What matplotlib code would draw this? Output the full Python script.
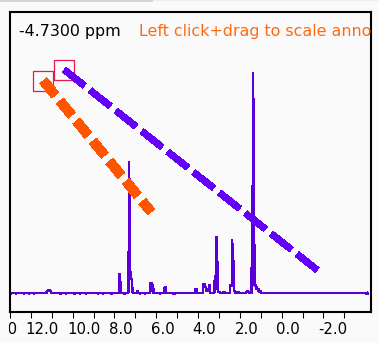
import matplotlib
matplotlib.use("Agg")
import matplotlib.pyplot as plt
from matplotlib.patches import Rectangle
from matplotlib.ticker import FixedLocator, FormatStrFormatter
import matplotlib.transforms as mtransforms

plt.rcParams['axes.unicode_minus'] = False
plt.rcParams['lines.scale_dashes'] = False

# 1H spectrum: chemical shift (ppm) and normalised intensity
ppm = [13.00, 12.97, 12.95, 12.93, 12.72, 12.70, 12.68, 12.34, 12.32, 12.30,
       12.10, 12.08, 12.06, 11.87, 11.85, 11.83, 11.26, 11.20, 11.08, 11.02,
       10.64, 10.62, 10.56, 10.54, 10.33, 10.31, 10.29, 9.95, 9.93, 9.88,
       9.86, 9.67, 9.65, 9.63, 9.38, 9.36, 9.34, 8.81, 8.79, 8.77,
       8.57, 8.55, 8.53, 8.20, 8.18, 8.12, 8.10, 7.79, 7.77, 7.75,
       7.72, 7.69, 7.54, 7.52, 7.50, 7.36, 7.33, 7.30, 7.27, 7.24,
       7.16, 7.14, 6.94, 6.92, 6.88, 6.86, 6.80, 6.78, 6.76, 6.56,
       6.54, 6.52, 6.29, 6.27, 6.22, 6.20, 6.15, 6.13, 5.84, 5.82,
       5.80, 5.62, 5.60, 5.55, 5.53, 5.22, 5.20, 5.10, 5.08, 4.14,
       4.12, 4.06, 4.04, 3.77, 3.75, 3.70, 3.68, 3.62, 3.60, 3.50,
       3.48, 3.44, 3.42, 3.22, 3.20, 3.15, 3.13, 3.09, 3.07, 3.04,
       2.98, 2.96, 2.80, 2.78, 2.74, 2.72, 2.48, 2.46, 2.39, 2.37,
       2.33, 2.30, 2.28, 2.24, 2.22, 2.12, 2.10, 2.04, 2.02, 1.70,
       1.68, 1.60, 1.58, 1.44, 1.42, 1.38, 1.365, 1.34, 1.33, 1.30,
       1.22, 1.20, 1.12, 1.10, 1.00, 0.98, -4.00, -4.02, -4.10, -4.11]
intensity = [0, 0, -0.005, 0, 0, -0.005, 0, 0, -0.005, 0,
             0, -0.005, 0, 0, -0.005, 0, 0, 0.011, 0.011, 0,
             0, -0.005, -0.005, 0, 0, -0.005, 0, 0, -0.005, -0.005,
             0, 0, -0.005, 0, 0, -0.005, 0, 0, -0.005, 0,
             0, -0.005, 0, 0, -0.005, -0.005, 0, 0, 0.086, 0.06,
             0.05, 0, 0, -0.005, 0, 0, 0.005, 0.597, 0.35, 0.064,
             0.06, 0, 0, 0.006, 0.006, 0, 0, -0.005, 0, 0,
             -0.005, 0, 0, 0.045, 0.045, 0.032, 0.032, 0, 0, -0.005,
             0, 0, 0.023, 0.023, 0, 0, -0.005, -0.005, 0, 0,
             0.014, 0.014, 0, 0, 0.041, 0.041, 0.026, 0.026, 0.008, 0.008,
             0.036, 0.036, 0, 0, 0.077, 0.077, 0.256, 0.25, 0.02, 0.004,
             0.004, 0, 0, 0.004, 0.004, 0, 0, 0.032, 0.032, 0.241,
             0.145, 0.145, 0.008, 0.008, 0, 0, 0.004, 0.004, 0, 0,
             0.005, 0.005, 0, 0, 0.486, 0.486, 1.0, 0.586, 0.586, 0.033,
             0.033, 0.018, 0.018, 0.006, 0.006, 0, 0, -0.005, -0.005, 0]

# scalable annotation lines: (ppm, intensity) start and end
orange_line_x = [11.40, 6.25]
orange_line_y = [0.964, 0.368]
violet_line_x = [10.40, -1.74]
violet_line_y = [1.014, 0.10]

major_ticks = [14, 12, 10, 8, 6, 4, 2, 0, -2]
minor_ticks = [13, 11, 9, 7, 5, 3, 1, -1, -3]

cursor_text = "-4.7300 ppm"
hint_text = "Left click+drag to scale annotation"

bg = '#fafafa'
fig = plt.figure(figsize=(3.79, 3.43), dpi=100, facecolor=bg)
ax = fig.add_axes([0.0264, 0.0912, 0.9512, 0.8738], facecolor=bg)

# thin toolbar strip across the top edge
fig.patches.append(Rectangle((0, 1 - 1.5 / 343), 153 / 379, 1.5 / 343,
                             transform=fig.transFigure, color='#d6d6d0', lw=0))
fig.patches.append(Rectangle((153 / 379, 1 - 1.2 / 343), 1 - 153 / 379, 1.2 / 343,
                             transform=fig.transFigure, color='#eeeeee', lw=0))

ax.plot(ppm, intensity, color='#5a00d6', lw=1.0, antialiased=False,
        solid_joinstyle='miter', zorder=2)

# start-point handles
for hx, hy in [(orange_line_x[0], orange_line_y[0]), (violet_line_x[0], violet_line_y[0])]:
    ax.plot([hx], [hy], marker='s', ms=14.4, mfc='none', mec='#e8174d',
            mew=0.9, zorder=3)

ax.plot(orange_line_x, orange_line_y, color='#ff5500', lw=6.4,
        dashes=(13.0, 5.6), solid_capstyle='butt', dash_capstyle='butt',
        antialiased=False, zorder=4)
ax.plot(violet_line_x, violet_line_y, color='#6400fa', lw=4.0,
        dashes=(18.5, 5.2), dash_capstyle='butt', antialiased=False, zorder=4)

ax.set_xlim(13.0, -4.25)
ax.set_ylim(-0.0864, 1.277)

for s in ax.spines.values():
    s.set_linewidth(1.5)
    s.set_color('black')

ax.yaxis.set_visible(False)
ax.xaxis.set_major_locator(FixedLocator(major_ticks))
ax.xaxis.set_minor_locator(FixedLocator(minor_ticks))
ax.xaxis.set_major_formatter(FormatStrFormatter('%.1f'))
tick_len, tick_pad = 4.3, 3.0
ax.tick_params(axis='x', which='both', direction='out', length=tick_len,
               width=0.75, color='black')
ax.tick_params(axis='x', which='major', labelsize=10.7, pad=tick_pad)

shift = mtransforms.ScaledTranslation(-5.5 / 100, 0, fig.dpi_scale_trans)
for lab in ax.get_xticklabels():
    lab.set_horizontalalignment('left')
    lab.set_transform(lab.get_transform() + shift)

# label of the 14.0 tick sits beyond the left limit; only the part right of
# the plot frame is shown
edge_label = ax.annotate(FormatStrFormatter('%.1f')(major_ticks[0]),
                         xy=(major_ticks[0], 0), xycoords=('data', 'axes fraction'),
                         xytext=(-5.5 * 0.72 + 0.6, -(tick_len + tick_pad)),
                         textcoords='offset points', ha='left', va='top',
                         fontsize=10.7, annotation_clip=False)
edge_label.set_clip_box(mtransforms.TransformedBbox(
    mtransforms.Bbox([[-0.002, -0.5], [1.0, 1.0]]), ax.transAxes))
edge_label.set_clip_on(True)

ax.text(0.0258, 0.92, cursor_text, transform=ax.transAxes, fontsize=11.45,
        color='black', va='baseline', ha='left', clip_on=True)
ax.text(0.358, 0.92, hint_text, transform=ax.transAxes, fontsize=11.45,
        color='#ff6a10', va='baseline', ha='left', clip_on=True)

fig.savefig('out.png', dpi=100, facecolor=bg)
